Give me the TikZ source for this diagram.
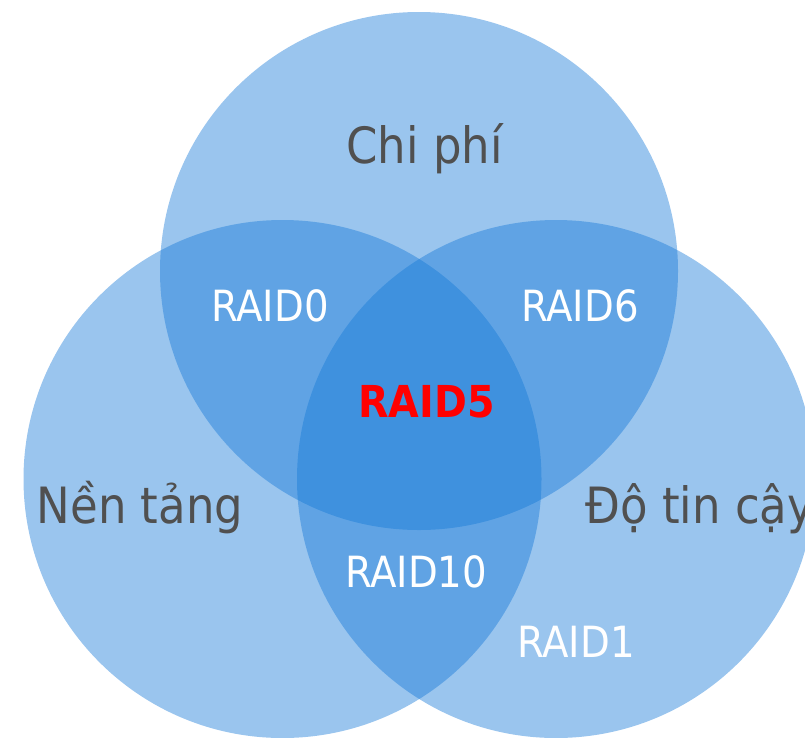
\documentclass[tikz,border=0pt]{standalone}
\usepackage{fontspec}
\setmainfont{DejaVu Sans Condensed}
\definecolor{vennblue}{RGB}{20,120,215}
\definecolor{labelgray}{RGB}{80,80,80}

\begin{document}
\begin{tikzpicture}[x=1pt,y=-1pt,
	venn/.style={circle,minimum size=518pt,inner sep=0pt,fill=vennblue,fill opacity=0.43},
	topic/.style={anchor=base,text=labelgray,font=\fontsize{50}{60}\selectfont},
	level/.style={anchor=base,text=white,font=\fontsize{43}{52}\selectfont}]
	\clip (0,0) rectangle (805,737);
	% the three sets
	\node[venn] (cost) at (419,271) {};
	\node[venn] (platform) at (282.5,479) {};
	\node[venn] (reliability) at (556,479) {};
	
	\node[topic] (costlbl) at (424.5,163) {Chi phí};
	\node[topic] (platformlbl) at (140,523) {Nền tảng};
	\node[topic,anchor=base west] (reliabilitylbl) at (582,523) {Độ tin cậy};
	
	\node[level] (raid0) at (270,321) {RAID0};
	\node[level] (raid6) at (580,321) {RAID6};
	\node[level] (raid10) at (416,587) {RAID10};
	\node[level] (raid1) at (576,657) {RAID1};
	\node[level,text=red,font=\bfseries\fontsize{44}{52}\selectfont] (raid5) at (426.5,417) {RAID5};
\end{tikzpicture}
\end{document}
